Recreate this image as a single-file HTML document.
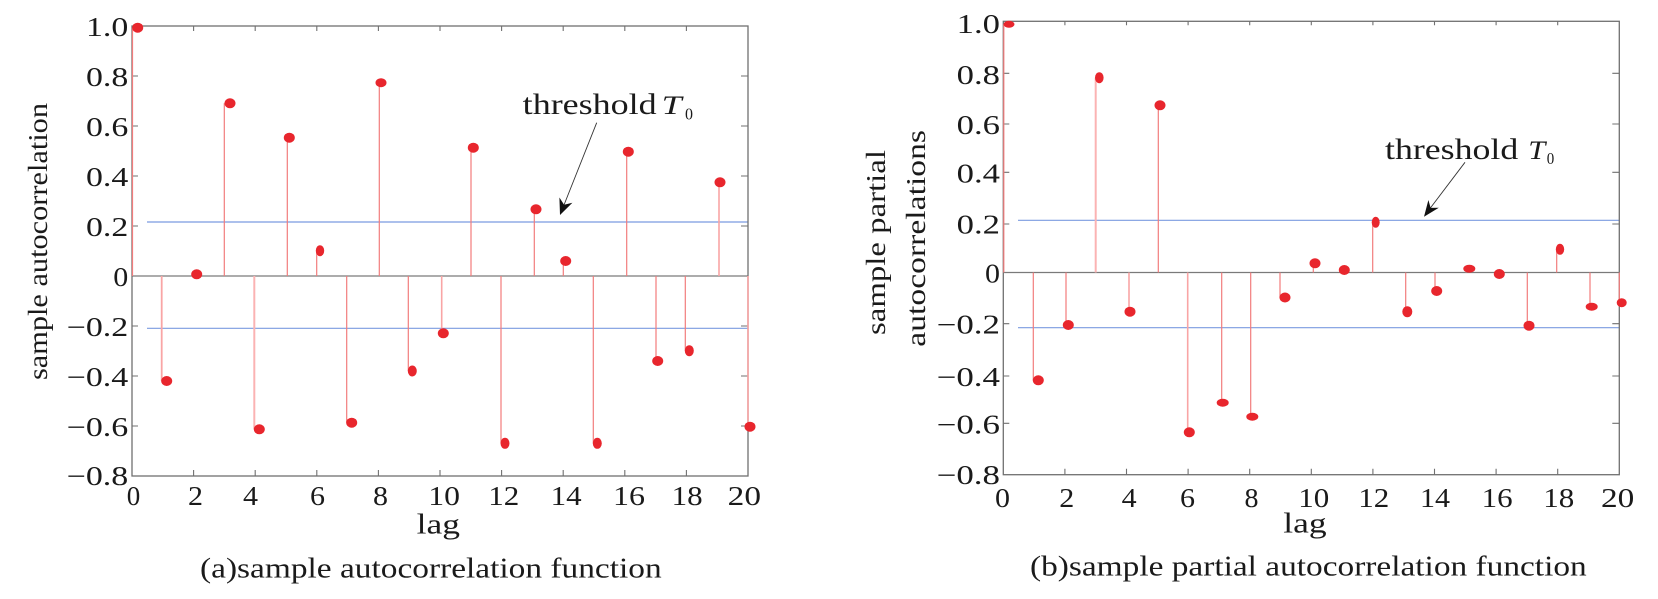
<!DOCTYPE html>
<html><head><meta charset="utf-8"><style>
html,body{margin:0;padding:0;background:#fff;}
svg{display:block;}
text{font-family:"Liberation Serif",serif;fill:#1a1a1a;}
</style></head><body>
<svg width="1658" height="599" viewBox="0 0 1658 599" xmlns="http://www.w3.org/2000/svg">
<rect width="1658" height="599" fill="#fff"/>

<!-- ================= PANEL A ================= -->
<g stroke="#7b9be0" stroke-width="1.2">
<line x1="147" y1="222" x2="748" y2="222"/>
<line x1="147" y1="328.3" x2="748" y2="328.3"/>
</g>
<line x1="132" y1="276" x2="748" y2="276" stroke="#7a7a7a" stroke-width="1.3"/>
<rect x="132" y="26" width="616" height="450" fill="none" stroke="#707070" stroke-width="1.3"/>
<g stroke="#707070" stroke-width="1.1">
<path d="M193.6 26v5M255.2 26v5M316.8 26v5M378.4 26v5M440 26v5M501.6 26v5M563.2 26v5M624.8 26v5M686.4 26v5
M193.6 476v-6M255.2 476v-6M316.8 476v-6M378.4 476v-6M440 476v-6M501.6 476v-6M563.2 476v-6M624.8 476v-6M686.4 476v-6
M132 76h6M132 126h6M132 176h6M132 226h6M132 326h6M132 376h6M132 426h6
M748 76h-7M748 126h-7M748 176h-7M748 226h-7M748 326h-7M748 376h-7M748 426h-7" fill="none"/>
</g>
<g stroke="#f27c7c" stroke-width="1.2">
<line x1="132.5" y1="276" x2="132.5" y2="27.7"/>
<line x1="161.7" y1="276" x2="161.7" y2="381" stroke="#f9a5a5" stroke-width="1.8"/>
<line x1="193.6" y1="276" x2="193.6" y2="274.3"/>
<line x1="224.3" y1="276" x2="224.3" y2="103.3"/>
<line x1="254.3" y1="276" x2="254.3" y2="429.3" stroke="#fbb3b3" stroke-width="2"/>
<line x1="287.3" y1="276" x2="287.3" y2="137.7"/>
<line x1="316.7" y1="276" x2="316.7" y2="250.7"/>
<line x1="346.7" y1="276" x2="346.7" y2="422.7"/>
<line x1="379.3" y1="276" x2="379.3" y2="82.7"/>
<line x1="408.3" y1="276" x2="408.3" y2="371"/>
<line x1="441.7" y1="276" x2="441.7" y2="333.3" stroke="#f9a5a5" stroke-width="1.6"/>
<line x1="471" y1="276" x2="471" y2="147.7"/>
<line x1="501" y1="276" x2="501" y2="443.3"/>
<line x1="534.3" y1="276" x2="534.3" y2="209.3"/>
<line x1="563.3" y1="276" x2="563.3" y2="261"/>
<line x1="593.3" y1="276" x2="593.3" y2="443.3"/>
<line x1="626.7" y1="276" x2="626.7" y2="151.7"/>
<line x1="656" y1="276" x2="656" y2="361"/>
<line x1="685.3" y1="276" x2="685.3" y2="350.7"/>
<line x1="719" y1="276" x2="719" y2="182.3" stroke="#f9a5a5" stroke-width="1.6"/>
<line x1="748" y1="276" x2="748" y2="426.7" stroke="#f9a5a5" stroke-width="1.6"/>
</g>
<g fill="#e8262d">
<ellipse cx="137.7" cy="27.7" rx="5.5" ry="5"/>
<ellipse cx="166.7" cy="381" rx="5.5" ry="5"/>
<ellipse cx="196.7" cy="274.3" rx="5.5" ry="5"/>
<ellipse cx="230" cy="103.3" rx="5.5" ry="5"/>
<ellipse cx="259.3" cy="429.3" rx="5.5" ry="5"/>
<ellipse cx="289.3" cy="137.7" rx="5.5" ry="5"/>
<ellipse cx="320" cy="250.7" rx="4.2" ry="5.5"/>
<ellipse cx="351.7" cy="422.7" rx="5.5" ry="5"/>
<ellipse cx="381" cy="82.7" rx="5.5" ry="4.5"/>
<ellipse cx="412.3" cy="371" rx="4.5" ry="5.5"/>
<ellipse cx="443.3" cy="333.3" rx="5.5" ry="5"/>
<ellipse cx="473.3" cy="147.7" rx="5.5" ry="5"/>
<ellipse cx="505" cy="443.3" rx="4.5" ry="5.5"/>
<ellipse cx="536" cy="209.3" rx="5.5" ry="5"/>
<ellipse cx="565.7" cy="261" rx="5.5" ry="5"/>
<ellipse cx="597.3" cy="443.3" rx="4.5" ry="5.5"/>
<ellipse cx="628.3" cy="151.7" rx="5.5" ry="5"/>
<ellipse cx="657.7" cy="361" rx="5.5" ry="5"/>
<ellipse cx="689.3" cy="350.7" rx="4.5" ry="5.5"/>
<ellipse cx="720" cy="182.3" rx="5.5" ry="5"/>
<ellipse cx="750" cy="426.7" rx="5.5" ry="5"/>
</g>
<line x1="596.7" y1="122.7" x2="564" y2="205" stroke="#333" stroke-width="0.9"/>
<polygon points="560,215 559.4,197.5 564.1,204.8 572.4,202.7" fill="#111"/>
<text x="522.7" y="114" font-size="30" textLength="134" lengthAdjust="spacingAndGlyphs">threshold</text>
<text x="661.7" y="114" font-size="26" font-style="italic" textLength="20" lengthAdjust="spacingAndGlyphs">T</text>
<text x="685" y="119.3" font-size="17" textLength="8" lengthAdjust="spacingAndGlyphs">0</text>

<g font-size="27">
<text x="86" y="36" textLength="42.3" lengthAdjust="spacingAndGlyphs">1.0</text>
<text x="86" y="86" textLength="42.3" lengthAdjust="spacingAndGlyphs">0.8</text>
<text x="86" y="136" textLength="42.3" lengthAdjust="spacingAndGlyphs">0.6</text>
<text x="86" y="186" textLength="42.3" lengthAdjust="spacingAndGlyphs">0.4</text>
<text x="86" y="236" textLength="42.3" lengthAdjust="spacingAndGlyphs">0.2</text>
<text x="113.3" y="286" textLength="15" lengthAdjust="spacingAndGlyphs">0</text>
<text x="66.7" y="336" textLength="61.6" lengthAdjust="spacingAndGlyphs">−0.2</text>
<text x="66.7" y="386" textLength="61.6" lengthAdjust="spacingAndGlyphs">−0.4</text>
<text x="66.7" y="436" textLength="61.6" lengthAdjust="spacingAndGlyphs">−0.6</text>
<text x="66.7" y="485" textLength="61.6" lengthAdjust="spacingAndGlyphs">−0.8</text>
</g>
<g font-size="27">
<text x="126.7" y="505" textLength="13.5" lengthAdjust="spacingAndGlyphs">0</text>
<text x="188" y="505" textLength="15" lengthAdjust="spacingAndGlyphs">2</text>
<text x="243" y="505" textLength="15" lengthAdjust="spacingAndGlyphs">4</text>
<text x="310" y="505" textLength="15" lengthAdjust="spacingAndGlyphs">6</text>
<text x="373" y="505" textLength="15" lengthAdjust="spacingAndGlyphs">8</text>
<text x="428.3" y="505" textLength="31.7" lengthAdjust="spacingAndGlyphs">10</text>
<text x="488.3" y="505" textLength="31" lengthAdjust="spacingAndGlyphs">12</text>
<text x="550.7" y="505" textLength="31" lengthAdjust="spacingAndGlyphs">14</text>
<text x="613" y="505" textLength="32" lengthAdjust="spacingAndGlyphs">16</text>
<text x="671.7" y="505" textLength="31" lengthAdjust="spacingAndGlyphs">18</text>
<text x="727.7" y="505" textLength="33.3" lengthAdjust="spacingAndGlyphs">20</text>
</g>
<text x="416.7" y="533.3" font-size="28" textLength="43.3" lengthAdjust="spacingAndGlyphs">lag</text>
<text transform="translate(47,380) rotate(-90)" x="0" y="0" font-size="27" textLength="277" lengthAdjust="spacingAndGlyphs">sample autocorrelation</text>
<text x="200" y="577.5" font-size="28" textLength="461.7" lengthAdjust="spacingAndGlyphs">(a)sample autocorrelation function</text>

<!-- ================= PANEL B ================= -->
<g stroke="#7b9be0" stroke-width="1.2">
<line x1="1018" y1="220.3" x2="1619.3" y2="220.3"/>
<line x1="1018" y1="327.7" x2="1619.3" y2="327.7"/>
</g>
<line x1="1003.3" y1="272.5" x2="1619.3" y2="272.5" stroke="#7a7a7a" stroke-width="1.3"/>
<rect x="1003.3" y="21.3" width="616" height="453.4" fill="none" stroke="#707070" stroke-width="1.3"/>
<g stroke="#707070" stroke-width="1.1">
<path d="M1064.9 21.3v4M1126.5 21.3v4M1188.1 21.3v4M1249.7 21.3v4M1311.3 21.3v4M1372.9 21.3v4M1434.5 21.3v4M1496.1 21.3v4M1557.7 21.3v4
M1064.9 474.7v-6M1126.5 474.7v-6M1188.1 474.7v-6M1249.7 474.7v-6M1311.3 474.7v-6M1372.9 474.7v-6M1434.5 474.7v-6M1496.1 474.7v-6M1557.7 474.7v-6
M1003.3 73.3h6M1003.3 124h6M1003.3 172.3h6M1003.3 224h6M1003.3 323.7h6M1003.3 376h6M1003.3 423.3h6
M1619.3 73.3h-7M1619.3 124h-7M1619.3 172.3h-7M1619.3 224h-7M1619.3 323.7h-7M1619.3 376h-7M1619.3 423.3h-7" fill="none"/>
</g>
<g stroke="#f27c7c" stroke-width="1.2">
<line x1="1003.8" y1="272.5" x2="1003.8" y2="24"/>
<line x1="1033.3" y1="272.5" x2="1033.3" y2="380.3"/>
<line x1="1066" y1="272.5" x2="1066" y2="325"/>
<line x1="1095.7" y1="272.5" x2="1095.7" y2="77.7" stroke="#fbb3b3" stroke-width="2"/>
<line x1="1129" y1="272.5" x2="1129" y2="311.7" stroke="#f9a5a5" stroke-width="1.6"/>
<line x1="1158.3" y1="272.5" x2="1158.3" y2="105.3"/>
<line x1="1187.7" y1="272.5" x2="1187.7" y2="432.3" stroke="#f9a5a5" stroke-width="1.6"/>
<line x1="1221.7" y1="272.5" x2="1221.7" y2="402.7"/>
<line x1="1250.7" y1="272.5" x2="1250.7" y2="416.7"/>
<line x1="1280" y1="272.5" x2="1280" y2="298"/>
<line x1="1313.3" y1="272.5" x2="1313.3" y2="263.3"/>
<line x1="1344" y1="272.5" x2="1344" y2="270"/>
<line x1="1372.7" y1="272.5" x2="1372.7" y2="222.3"/>
<line x1="1405.7" y1="272.5" x2="1405.7" y2="311.7"/>
<line x1="1435" y1="272.5" x2="1435" y2="291"/>
<line x1="1466" y1="272.5" x2="1466" y2="268.7"/>
<line x1="1497.3" y1="272.5" x2="1497.3" y2="274"/>
<line x1="1527.3" y1="272.5" x2="1527.3" y2="325.7"/>
<line x1="1556.7" y1="272.5" x2="1556.7" y2="249.3"/>
<line x1="1590" y1="272.5" x2="1590" y2="306.7"/>
<line x1="1619.3" y1="272.5" x2="1619.3" y2="302.7"/>
</g>
<g fill="#e8262d">
<ellipse cx="1009" cy="24.3" rx="5.5" ry="3.5"/>
<ellipse cx="1038.3" cy="380.3" rx="5.5" ry="5"/>
<ellipse cx="1068.3" cy="325" rx="5.5" ry="5"/>
<ellipse cx="1099.3" cy="77.7" rx="4.3" ry="5.5"/>
<ellipse cx="1130" cy="311.7" rx="5.5" ry="5"/>
<ellipse cx="1160" cy="105.3" rx="5.5" ry="5"/>
<ellipse cx="1189.3" cy="432.3" rx="5.5" ry="5"/>
<ellipse cx="1222.7" cy="402.7" rx="6" ry="4"/>
<ellipse cx="1252.3" cy="416.7" rx="6" ry="4"/>
<ellipse cx="1285" cy="297.5" rx="5.5" ry="5"/>
<ellipse cx="1315" cy="263.3" rx="5.5" ry="5"/>
<ellipse cx="1344.3" cy="270" rx="5.5" ry="5"/>
<ellipse cx="1375.7" cy="222.3" rx="4" ry="5.5"/>
<ellipse cx="1407.3" cy="311.7" rx="5" ry="5.5"/>
<ellipse cx="1436.7" cy="291" rx="5.5" ry="5"/>
<ellipse cx="1469.3" cy="268.7" rx="6" ry="4"/>
<ellipse cx="1499.3" cy="274" rx="5.5" ry="5"/>
<ellipse cx="1529" cy="325.7" rx="5.5" ry="5"/>
<ellipse cx="1560" cy="249.3" rx="4.2" ry="5.5"/>
<ellipse cx="1591.7" cy="306.7" rx="6" ry="4"/>
<ellipse cx="1621.7" cy="302.7" rx="5" ry="4.5"/>
</g>
<line x1="1465" y1="162.3" x2="1430" y2="208.5" stroke="#333" stroke-width="0.9"/>
<polygon points="1424,216.7 1428.4,200 1430.6,207.9 1438.8,207.8" fill="#111"/>
<text x="1385" y="159" font-size="30" textLength="133.3" lengthAdjust="spacingAndGlyphs">threshold</text>
<text x="1528.3" y="159" font-size="26" font-style="italic" textLength="17" lengthAdjust="spacingAndGlyphs">T</text>
<text x="1546.7" y="164" font-size="17" textLength="7.5" lengthAdjust="spacingAndGlyphs">0</text>

<g font-size="27">
<text x="956.7" y="33" textLength="43.3" lengthAdjust="spacingAndGlyphs">1.0</text>
<text x="956.7" y="84" textLength="43.3" lengthAdjust="spacingAndGlyphs">0.8</text>
<text x="956.7" y="134" textLength="43.3" lengthAdjust="spacingAndGlyphs">0.6</text>
<text x="956.7" y="182.5" textLength="43.3" lengthAdjust="spacingAndGlyphs">0.4</text>
<text x="956.7" y="233.5" textLength="43.3" lengthAdjust="spacingAndGlyphs">0.2</text>
<text x="985" y="282.5" textLength="15" lengthAdjust="spacingAndGlyphs">0</text>
<text x="936.7" y="333.5" textLength="63.3" lengthAdjust="spacingAndGlyphs">−0.2</text>
<text x="936.7" y="386" textLength="63.3" lengthAdjust="spacingAndGlyphs">−0.4</text>
<text x="936.7" y="433.5" textLength="63.3" lengthAdjust="spacingAndGlyphs">−0.6</text>
<text x="936.7" y="484" textLength="63.3" lengthAdjust="spacingAndGlyphs">−0.8</text>
</g>
<g font-size="27">
<text x="995" y="507" textLength="15" lengthAdjust="spacingAndGlyphs">0</text>
<text x="1059.3" y="507" textLength="15" lengthAdjust="spacingAndGlyphs">2</text>
<text x="1121.7" y="507" textLength="15" lengthAdjust="spacingAndGlyphs">4</text>
<text x="1180" y="507" textLength="15" lengthAdjust="spacingAndGlyphs">6</text>
<text x="1244.5" y="507" textLength="14" lengthAdjust="spacingAndGlyphs">8</text>
<text x="1298.3" y="507" textLength="31" lengthAdjust="spacingAndGlyphs">10</text>
<text x="1358.3" y="507" textLength="31" lengthAdjust="spacingAndGlyphs">12</text>
<text x="1420" y="507" textLength="30" lengthAdjust="spacingAndGlyphs">14</text>
<text x="1481.7" y="507" textLength="31" lengthAdjust="spacingAndGlyphs">16</text>
<text x="1543.3" y="507" textLength="31" lengthAdjust="spacingAndGlyphs">18</text>
<text x="1601" y="507" textLength="33.3" lengthAdjust="spacingAndGlyphs">20</text>
</g>
<text x="1283.3" y="532.7" font-size="28" textLength="43.4" lengthAdjust="spacingAndGlyphs">lag</text>
<text transform="translate(885,335) rotate(-90)" x="0" y="0" font-size="27" textLength="185" lengthAdjust="spacingAndGlyphs">sample partial</text>
<text transform="translate(925,346.7) rotate(-90)" x="0" y="0" font-size="27" textLength="216.7" lengthAdjust="spacingAndGlyphs">autocorrelations</text>
<text x="1030" y="575.5" font-size="28" textLength="556.7" lengthAdjust="spacingAndGlyphs">(b)sample partial autocorrelation function</text>
</svg>
</body></html>
